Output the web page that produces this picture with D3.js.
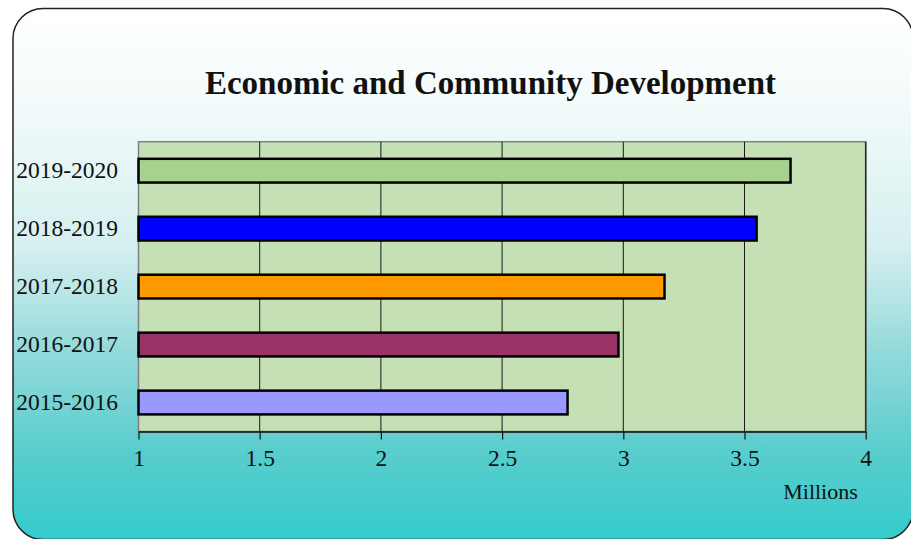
<!DOCTYPE html>
<html>
<head>
<meta charset="utf-8">
<script src="https://cdn.jsdelivr.net/npm/d3@7"></script>
<style>
  html, body { margin: 0; padding: 0; background: #ffffff; }
  svg { display: block; }
  text { font-family: "Liberation Serif", "Times New Roman", serif; fill: #111; }
</style>
</head>
<body>
<svg id="chart" width="911" height="539"></svg>
<script>
// Spending by fiscal year, in millions
const years = ["2019-2020", "2018-2019", "2017-2018", "2016-2017", "2015-2016"];
const amounts = [3.69, 3.55, 3.17, 2.98, 2.77];
const barColors = ["#a9d18e", "#0000ff", "#ff9900", "#993366", "#9999ff"];
const xTicks = [1, 1.5, 2, 2.5, 3, 3.5, 4];
const xTickLabels = ["1", "1.5", "2", "2.5", "3", "3.5", "4"];
const titleText = "Economic and Community Development";
const unitLabel = "Millions";

const svg = d3.select("#chart");

// Background panel gradient: white at top fading to teal
const defs = svg.append("defs");
const grad = defs.append("linearGradient")
  .attr("id", "panelGrad").attr("x1", 0).attr("y1", 0).attr("x2", 0).attr("y2", 1);
[[0, "#ffffff"], [0.17, "#f4fbfb"], [0.45, "#d5efef"], [0.54, "#b8e5e6"],
 [0.64, "#95dadb"], [0.74, "#78d3d4"], [0.83, "#5acdcd"], [1, "#35cbcb"]]
  .forEach(([o, c]) => grad.append("stop").attr("offset", o).attr("stop-color", c));

svg.append("rect")
  .attr("x", 13).attr("y", 8.5)
  .attr("width", 900).attr("height", 531)
  .attr("rx", 30).attr("ry", 30)
  .attr("fill", "url(#panelGrad)")
  .attr("stroke", "#222").attr("stroke-width", 1.5);

// Plot area
const plot = { left: 138.5, right: 865.7, top: 141.7, bottom: 431.5 };

const x = d3.scaleLinear().domain([1, 4]).range([plot.left, plot.right]);
const y = d3.scaleBand().domain(years).range([plot.top, plot.bottom]).paddingInner(0.59).paddingOuter(0.295);

svg.append("rect")
  .attr("x", plot.left).attr("y", plot.top)
  .attr("width", plot.right - plot.left).attr("height", plot.bottom - plot.top)
  .attr("fill", "#c5e0b4")
  .attr("stroke", "#808080").attr("stroke-width", 1.5);

// Vertical gridlines
svg.append("g")
  .selectAll("line")
  .data(xTicks.slice(1, -1))
  .join("line")
  .attr("x1", d => x(d)).attr("x2", d => x(d))
  .attr("y1", plot.top).attr("y2", plot.bottom)
  .attr("stroke", "#1a1a1a").attr("stroke-width", 1);

// Right border
svg.append("line")
  .attr("x1", plot.right).attr("x2", plot.right)
  .attr("y1", plot.top).attr("y2", plot.bottom)
  .attr("stroke", "#2a2a2a").attr("stroke-width", 1.5);

// Bars
svg.append("g")
  .selectAll("rect")
  .data(years)
  .join("rect")
  .attr("x", x(1))
  .attr("y", d => y(d))
  .attr("width", (d, i) => x(amounts[i]) - x(1))
  .attr("height", y.bandwidth())
  .attr("fill", (d, i) => barColors[i])
  .attr("stroke", "#000").attr("stroke-width", 2.5);

// Bottom axis
const xAxis = d3.axisBottom(x)
  .tickValues(xTicks)
  .tickFormat((d, i) => xTickLabels[i])
  .tickSize(8)
  .tickSizeOuter(0)
  .tickPadding(10);

const axisG = svg.append("g")
  .attr("transform", `translate(0,${plot.bottom})`)
  .call(xAxis);
axisG.select(".domain").attr("stroke", "#111").attr("stroke-width", 1.5);
axisG.selectAll(".tick line").attr("stroke", "#111").attr("stroke-width", 1.2);
axisG.selectAll(".tick text")
  .attr("font-family", "Liberation Serif, Times New Roman, serif")
  .attr("font-size", 23.5)
  .attr("fill", "#111");

// Category labels
const yAxis = d3.axisLeft(y).tickSize(0).tickPadding(20.5);
const yG = svg.append("g").attr("transform", `translate(${plot.left},0)`).call(yAxis);
yG.select(".domain").remove();
yG.selectAll(".tick text")
  .attr("font-family", "Liberation Serif, Times New Roman, serif")
  .attr("font-size", 23.5)
  .attr("fill", "#111");

// Title
svg.append("text")
  .attr("x", 490.5).attr("y", 93.5)
  .attr("text-anchor", "middle")
  .attr("font-size", 33).attr("font-weight", "bold")
  .text(titleText);

// Unit label
svg.append("text")
  .attr("x", 820.5).attr("y", 499)
  .attr("text-anchor", "middle")
  .attr("font-size", 22)
  .text(unitLabel);
</script>
</body>
</html>
